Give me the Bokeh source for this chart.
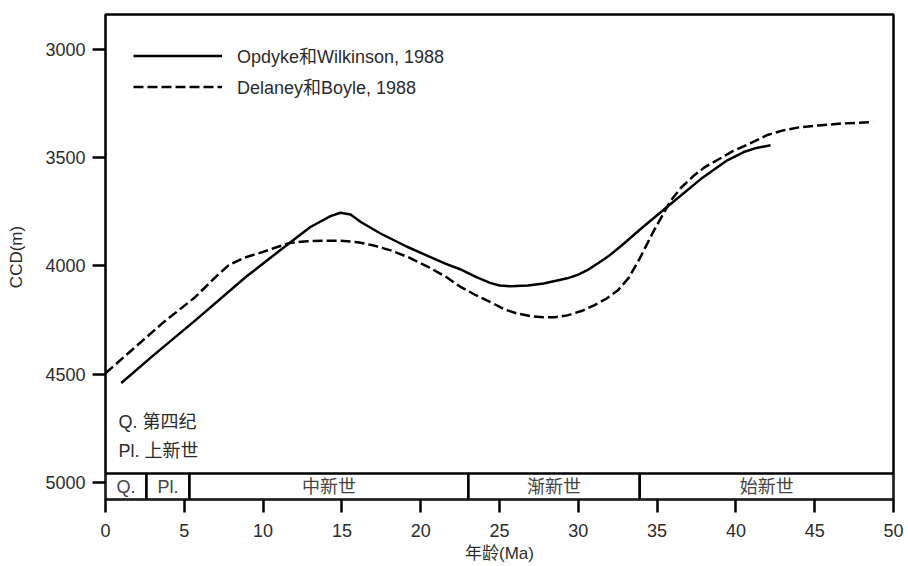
from bokeh.plotting import figure
from bokeh.models import Range1d, Legend, LegendItem, FixedTicker
from bokeh.core.properties import value
from bokeh.embed import file_html
from bokeh.resources import INLINE

# ---- data ----
solid_age = [1.0, 3.0, 5.7, 8.9, 11.74, 13.0, 14.28, 14.9, 15.55, 16.2, 17.45, 19.1, 20.4, 21.6,
             22.5, 23.5, 24.4, 25.0, 25.7, 26.8, 27.8, 29.3, 30.0, 30.6, 31.3, 32.0, 32.9, 33.9,
             34.6, 36.05, 37.75, 39.45, 40.5, 41.3, 42.2]
solid_ccd = [4540, 4415, 4251, 4051, 3890, 3820, 3770, 3754, 3762, 3797, 3850, 3910, 3952, 3990,
             4015, 4050, 4078, 4090, 4094, 4090, 4081, 4057, 4040, 4018, 3985, 3950, 3896, 3833,
             3790, 3702, 3600, 3512, 3474, 3455, 3443]

dash_age = [0.0, 1.8, 3.6, 5.7, 7.0, 7.8, 8.8, 9.95, 11.0, 11.74, 12.8, 14.0, 14.9, 16.0, 17.0,
            18.1, 19.2, 20.5, 21.6, 22.5, 23.5, 24.6, 25.3, 26.1, 27.0, 27.8, 28.5, 29.3, 30.2,
            31.0, 31.8, 32.5, 33.2, 33.9, 34.8, 35.85, 36.5, 37.3, 38.0, 38.8, 39.8, 40.9, 42.0,
            43.0, 44.0, 45.2, 46.8, 48.7]
dash_ccd = [4495, 4380, 4265, 4143, 4050, 3997, 3962, 3936, 3910, 3893, 3886, 3883, 3883, 3890,
            3905, 3928, 3959, 4005, 4050, 4095, 4135, 4173, 4200, 4219, 4232, 4237, 4237, 4228,
            4208, 4182, 4150, 4113, 4055, 3965, 3836, 3700, 3640, 3585, 3545, 3512, 3470, 3434,
            3395, 3374, 3360, 3351, 3342, 3336]

series_names = ["Opdyke和Wilkinson, 1988", "Delaney和Boyle, 1988"]

epoch_bounds = [0.0, 2.6, 5.33, 23.03, 33.9, 50.0]
epoch_names = ["Q.", "Pl.", "中新世", "渐新世", "始新世"]

notes = ["Q.  第四纪", "Pl.  上新世"]

x_ticks = [0, 5, 10, 15, 20, 25, 30, 35, 40, 45, 50]
y_ticks = [3000, 3500, 4000, 4500, 5000]
x_title = "年龄(Ma)"
y_title = "CCD(m)"

# ---- figure ----
FONT = "Liberation Sans, Noto Sans CJK SC"
TXT = "#2b2b2b"

p = figure(width=908, height=566, output_backend="svg", toolbar_location=None,
           x_range=Range1d(0, 50), y_range=Range1d(5078, 2839),
           min_border_left=105, min_border_right=15, min_border_top=14, min_border_bottom=67)
p.background_fill_color = "white"
p.border_fill_color = "white"
p.outline_line_color = "black"
p.outline_line_width = 2.5
p.xgrid.visible = False
p.ygrid.visible = False

for ax in (p.xaxis[0], p.yaxis[0]):
    ax.axis_line_color = None
    ax.major_tick_line_width = 2.5
    ax.major_tick_line_color = "black"
    ax.major_tick_in = 0
    ax.major_tick_out = 13
    ax.minor_tick_line_color = None
    ax.major_label_text_font = FONT
    ax.major_label_text_font_size = "18px"
    ax.major_label_text_color = TXT
    ax.axis_label_text_font = FONT
    ax.axis_label_text_font_size = "17px"
    ax.axis_label_text_font_style = "normal"
    ax.axis_label_text_color = TXT

p.xaxis[0].ticker = FixedTicker(ticks=x_ticks)
p.yaxis[0].ticker = FixedTicker(ticks=y_ticks)
p.xaxis[0].axis_label = x_title
p.yaxis[0].axis_label = y_title
p.xaxis[0].major_label_standoff = 11
p.xaxis[0].axis_label_standoff = 4
p.yaxis[0].major_label_standoff = 7
p.yaxis[0].axis_label_standoff = 16

# epoch band
band_top, band_bottom = 4958, 5078
p.quad(left=epoch_bounds[:-1], right=epoch_bounds[1:], top=band_top, bottom=band_bottom,
       fill_color="white", line_color="black", line_width=2.5)
mids = [(a + b) / 2 for a, b in zip(epoch_bounds[:-1], epoch_bounds[1:])]
p.text(x=mids, y=[5018] * len(mids), text=epoch_names, text_align="center",
       text_baseline="middle", text_font=value(FONT), text_font_size="18px", text_color="#444444")

# notes
p.text(x=[0.82, 0.82], y=[4722, 4856], text=notes, text_align="left", text_baseline="middle",
       text_font=value(FONT), text_font_size="18px", text_color=TXT)

# curves
r1 = p.line(solid_age, solid_ccd, line_color="black", line_width=2.5, line_join="round")
r2 = p.line(dash_age, dash_ccd, line_color="black", line_width=2.5, line_dash="10 4",
            line_join="round")

legend = Legend(items=[LegendItem(label=series_names[0], renderers=[r1]),
                       LegendItem(label=series_names[1], renderers=[r2])],
                location="top_left", margin=0, padding=28, spacing=5,
                glyph_width=89, glyph_height=25, label_height=25, label_standoff=15,
                label_text_font=FONT, label_text_font_size="18px", label_text_color=TXT,
                border_line_color="white", border_line_alpha=0, background_fill_alpha=0)
p.add_layout(legend, "center")

open("out.html", "w").write(file_html(p, INLINE))
